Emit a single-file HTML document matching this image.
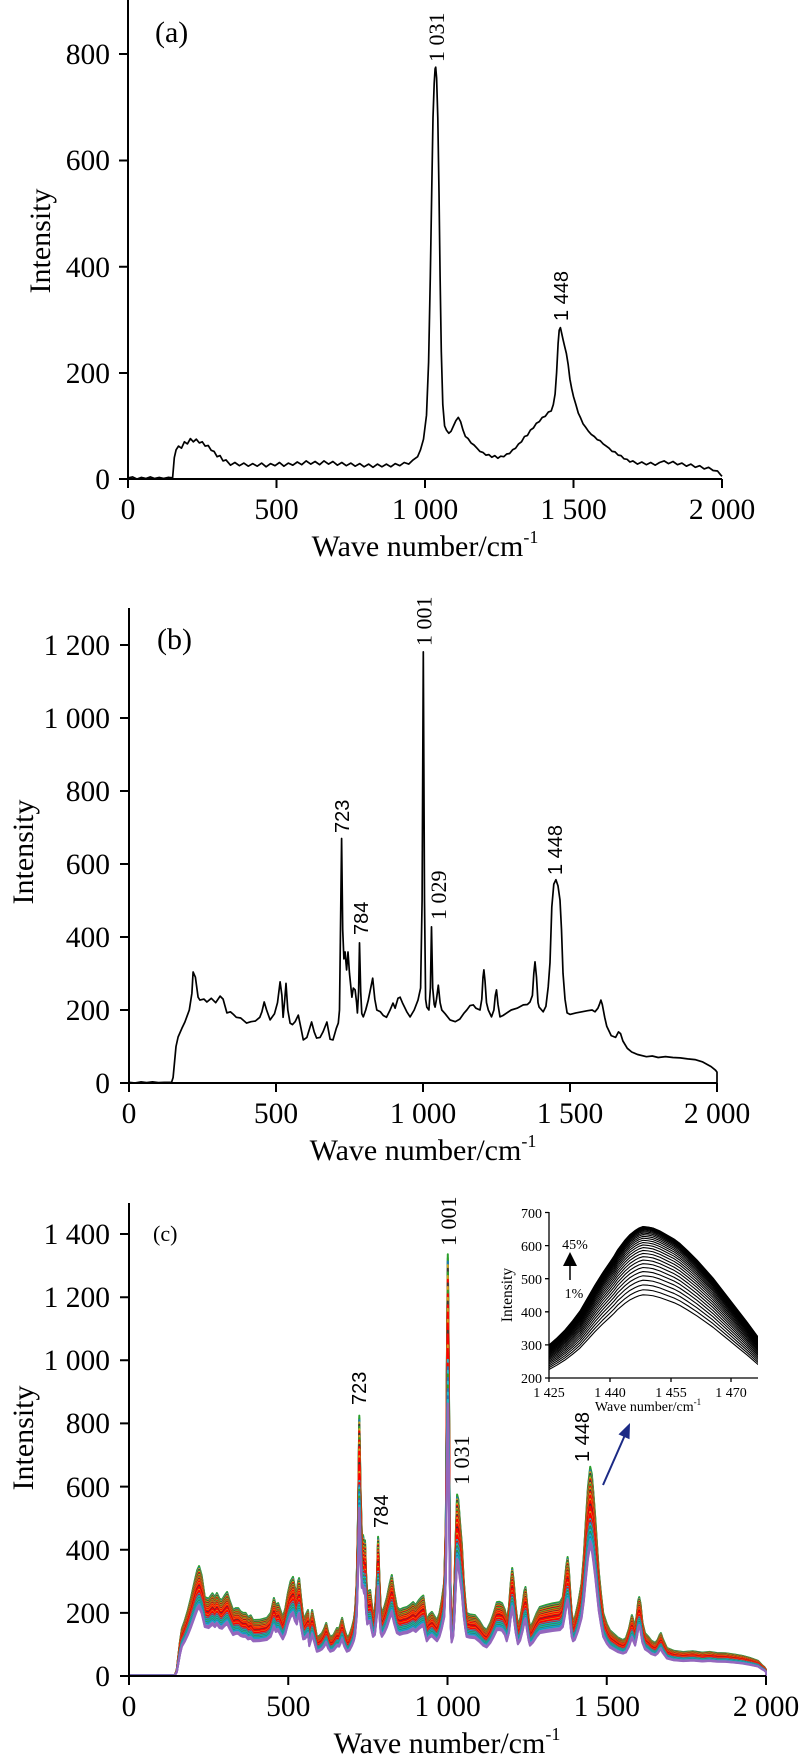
<!DOCTYPE html>
<html><head><meta charset="utf-8"><style>
html,body{margin:0;padding:0;background:#fff;}
svg{display:block;}
.s{font-family:"Liberation Serif",serif;fill:#000;}
.n{font-family:"Liberation Sans",sans-serif;fill:#000;}
.ax{stroke:#000;stroke-width:2;fill:none;}
.sp{stroke:#000;stroke-width:1.7;fill:none;stroke-linejoin:round;}
</style></head><body>
<svg xmlns="http://www.w3.org/2000/svg" xmlns:xlink="http://www.w3.org/1999/xlink" width="800" height="1763" viewBox="0 0 800 1763">
<rect width="800" height="1763" fill="#fff"/>
<defs>
<clipPath id="ic"><rect x="549" y="1200" width="209" height="178"/></clipPath>
<path id="S" fill="none" vector-effect="non-scaling-stroke" stroke-linejoin="round" d="M129.0 1675.1 L174.9 1675.1 176.8 1669.7 180.0 1641.3 181.9 1628.6 184.7 1620.8 187.9 1610.0 191.1 1597.1 194.9 1580.0 197.2 1570.2 199.1 1566.1 201.6 1575.0 204.8 1597.1 208.6 1598.7 212.4 1593.3 215.0 1597.1 216.9 1593.0 219.5 1598.7 222.0 1599.9 224.6 1595.5 227.1 1592.0 229.6 1600.2 233.1 1610.0 235.7 1608.1 238.2 1608.1 240.5 1611.3 243.0 1612.9 245.6 1612.9 248.1 1617.0 250.7 1615.4 253.2 1620.1 259.6 1619.8 266.9 1617.9 270.7 1612.9 273.9 1598.0 275.8 1605.0 278.1 1603.1 280.3 1609.7 282.8 1617.0 285.4 1608.1 287.9 1593.0 290.5 1581.3 293.0 1576.9 294.9 1587.6 296.8 1593.0 298.1 1581.3 299.1 1578.1 301.0 1597.1 303.2 1617.0 305.1 1616.0 308.0 1610.0 309.3 1628.0 310.9 1619.2 312.1 1610.0 314.4 1622.3 316.9 1636.9 319.5 1635.6 322.0 1633.1 324.2 1628.6 326.2 1623.0 328.1 1631.8 330.3 1636.9 333.5 1635.0 337.0 1628.0 339.2 1628.6 342.1 1617.9 344.3 1628.6 346.9 1636.9 349.4 1635.0 352.0 1627.1 353.9 1619.2 355.1 1610.0 356.7 1581.3 358.0 1518.2 359.3 1415.6 360.5 1486.6 361.8 1533.9 363.1 1535.2 364.1 1543.4 365.0 1540.3 366.0 1571.8 367.2 1593.0 368.5 1590.8 370.1 1590.1 371.7 1603.4 373.0 1612.9 374.9 1609.7 376.8 1581.3 378.1 1536.8 379.3 1575.0 380.6 1606.5 381.9 1612.9 384.4 1606.5 387.0 1597.1 389.5 1584.4 391.8 1575.0 394.0 1590.8 396.9 1606.9 399.7 1609.7 402.9 1608.1 407.0 1606.9 409.9 1605.0 413.1 1602.1 415.7 1605.0 418.8 1600.2 421.4 1597.1 423.3 1595.5 425.2 1609.7 426.8 1620.1 429.3 1614.4 431.9 1611.9 434.4 1616.0 437.0 1620.1 439.5 1612.9 441.8 1599.9 444.3 1581.3 445.9 1518.2 446.9 1360.3 447.8 1254.2 448.8 1360.3 449.7 1518.2 450.7 1597.1 451.6 1622.0 453.2 1612.9 454.5 1581.3 455.8 1533.9 457.1 1494.5 458.3 1499.2 460.2 1524.5 461.8 1543.4 463.7 1580.0 465.3 1600.2 466.6 1612.9 469.8 1614.4 474.9 1615.1 479.4 1620.8 483.2 1627.1 486.7 1629.9 490.5 1622.3 493.7 1612.9 496.9 1602.1 499.4 1601.8 502.0 1603.1 504.8 1609.7 506.7 1620.1 509.0 1606.5 510.6 1584.4 512.2 1568.0 513.7 1581.3 515.7 1606.5 517.9 1624.9 520.1 1619.2 522.7 1603.4 524.3 1590.8 525.5 1587.0 527.1 1603.4 528.7 1619.2 530.0 1627.1 532.9 1622.3 536.7 1612.9 539.9 1606.9 546.2 1605.0 552.6 1603.4 559.9 1602.1 562.8 1597.1 564.7 1581.3 566.3 1565.5 567.6 1557.0 568.8 1568.7 570.4 1593.9 571.7 1612.9 573.0 1620.1 574.9 1617.6 578.1 1603.4 580.0 1592.3 581.6 1582.9 583.8 1556.0 586.0 1518.2 588.0 1486.6 590.2 1466.7 591.8 1474.0 593.4 1492.9 595.3 1518.2 596.9 1543.1 598.8 1571.8 601.0 1593.9 603.2 1612.9 606.8 1623.9 609.9 1630.2 613.1 1633.1 617.9 1637.5 623.0 1640.0 625.9 1638.1 629.0 1628.6 631.0 1619.2 631.9 1615.1 633.5 1620.8 635.1 1627.1 637.0 1612.9 638.3 1600.2 639.2 1597.1 640.5 1603.4 642.4 1622.3 645.0 1633.1 648.2 1636.5 651.3 1640.6 655.2 1642.9 657.7 1639.7 659.6 1635.0 660.9 1633.1 662.5 1638.1 666.9 1647.9 673.6 1650.7 683.2 1652.0 692.8 1651.2 702.3 1652.6 709.6 1651.9 716.9 1653.0 725.5 1653.2 734.2 1654.5 742.2 1655.8 750.1 1658.0 758.0 1660.8 761.9 1665.0 764.4 1667.2 766.0 1669.7 766.0 1676"/>
<path id="F" fill="none" vector-effect="non-scaling-stroke" stroke-linejoin="round" d="M549 1345 L557 1338 565 1330 572.5 1321 580 1311 587.5 1298 595 1285 602.5 1273 610 1262 614 1256 617.5 1250 625 1240 630 1234.5 635 1230.5 639 1228 643 1226.5 648 1227 653 1228 660 1231 667 1235 674 1239 680 1243.5 688 1251 697 1260 705 1269 713 1278 721.5 1289 730 1300 738.5 1311 747 1322 752.5 1329.5 758 1337 760 1340"/>
</defs>

<!-- ===== Panel (a) ===== -->
<path class="ax" d="M128 0V479H722 M119 479H128 M119 373H128 M119 266.7H128 M119 160.5H128 M119 54H128 M128 479V488 M276.5 479V488 M425 479V488 M573.5 479V488 M722 479V488"/>
<g class="s" font-size="29.5" text-anchor="end">
<text x="110" y="489">0</text><text x="110" y="383">200</text><text x="110" y="277">400</text><text x="110" y="170">600</text><text x="110" y="64">800</text>
</g>
<g class="s" font-size="29.5" text-anchor="middle">
<text x="128" y="519">0</text><text x="276.5" y="519">500</text><text x="425" y="519">1 000</text><text x="573.5" y="519">1 500</text><text x="722" y="519">2 000</text>
<text x="425" y="556" font-size="30">Wave number/cm<tspan font-size="18" dy="-13">-1</tspan></text>
<text transform="translate(50,241) rotate(-90)" font-size="30">Intensity</text>
</g>
<text class="s" x="155" y="42" font-size="30">(a)</text>
<text class="s" font-size="22" transform="translate(444,62) rotate(-90)">1 031</text>
<text class="n" font-size="20" transform="translate(568,321) rotate(-90)">1 448</text>
<path class="sp" d="M128.0 477.9 L132.5 476.9 136.9 479 141.4 477.4 145.8 478.5 150.3 476.9 154.7 478.5 159.2 477.4 163.6 478.5 168.1 477.4 172.6 477.9 174.3 457.7 176.1 449.8 178.5 446.1 181.5 448.2 184.4 441.8 187.4 443.9 190.4 438.6 193.3 441.8 196.3 439.2 199.3 442.9 202.3 441.8 205.2 446.1 208.2 445.5 211.2 450.3 214.1 451.4 217.1 456.7 220.1 455.6 223.0 460.9 226.0 459.9 230.5 465.2 234.9 462.5 239.4 465.7 243.8 463.1 248.3 466.2 252.7 463.6 257.2 466.2 261.7 463.1 266.1 466.8 270.6 463.6 275.0 465.7 279.5 462.5 283.9 466.2 288.4 463.1 292.8 465.2 297.3 462.0 301.7 464.7 306.2 460.9 310.7 464.1 315.1 461.5 319.6 464.7 324.0 460.9 328.5 464.1 332.9 461.5 337.4 465.2 341.8 462.5 346.3 465.7 350.8 463.1 355.2 466.2 359.7 463.6 364.1 466.8 368.6 464.1 373.0 467.3 377.5 464.1 381.9 466.8 386.4 464.1 390.8 466.8 395.3 463.6 399.8 465.7 404.2 462.5 408.7 464.1 413.1 459.9 417.6 456.7 420.5 449.8 423.5 439.2 426.5 415.2 428.6 362.1 430.3 277.1 431.8 186.8 433.0 117.7 434.2 83.2 435.1 68.8 435.7 67.2 436.6 77.9 437.8 117.7 439.0 192.1 440.1 277.1 441.3 351.5 442.8 404.6 444.6 425.9 446.4 430.1 448.8 433.3 451.1 431.2 453.5 425.9 455.9 420.6 458.3 417.4 460.6 421.6 463.0 430.1 465.4 436.5 468.1 438.6 471.0 442.9 474.0 445.0 477.0 448.2 479.9 451.4 482.9 452.4 485.9 455.1 488.9 454.6 491.8 457.2 494.8 455.6 497.8 458.3 500.7 456.2 503.7 456.7 506.7 454.0 509.6 453.5 512.6 449.8 515.6 448.2 518.6 443.9 521.5 441.8 524.5 436.5 527.5 435.4 530.4 430.1 533.4 428.0 536.4 423.2 539.3 421.6 542.3 417.4 545.3 416.3 548.3 412.1 551.2 411.0 553.3 404.6 555.1 394.0 556.6 372.7 558.1 343.5 559.2 330.2 560.4 327.6 561.6 332.9 563.1 339.8 564.6 346.2 566.4 353.6 568.2 364.8 569.9 379.1 571.7 388.7 573.5 396.6 575.9 404.6 578.3 413.1 580.6 417.9 583.0 423.7 585.4 426.9 588.4 431.2 591.3 434.4 594.3 436.5 597.3 439.7 600.2 440.7 603.2 443.9 606.2 446.1 609.1 448.2 612.1 451.4 615.1 451.9 618.1 455.1 621.0 455.6 624.0 458.8 627.0 459.3 629.9 462.0 632.9 460.9 637.4 464.1 641.8 462.0 646.3 464.7 650.7 462.5 655.2 465.2 659.6 462.5 664.1 460.9 668.5 463.6 673.0 461.5 677.5 464.7 681.9 463.1 686.4 466.2 690.8 464.1 695.3 467.3 699.7 465.7 704.2 468.9 708.6 467.3 713.1 470.5 717.5 471.0 720.5 474.7 722.0 476.3"/>

<!-- ===== Panel (b) ===== -->
<path class="ax" d="M129 608V1083H717 M120 1083H129 M120 1010H129 M120 937H129 M120 864H129 M120 791H129 M120 718H129 M120 645H129 M129 1083V1092 M276 1083V1092 M423 1083V1092 M570 1083V1092 M717 1083V1092"/>
<g class="s" font-size="29.5" text-anchor="end">
<text x="110" y="1093">0</text><text x="110" y="1020">200</text><text x="110" y="947">400</text><text x="110" y="874">600</text><text x="110" y="801">800</text><text x="110" y="728">1 000</text><text x="110" y="655">1 200</text>
</g>
<g class="s" font-size="29.5" text-anchor="middle">
<text x="129" y="1123">0</text><text x="276" y="1123">500</text><text x="423" y="1123">1 000</text><text x="570" y="1123">1 500</text><text x="717" y="1123">2 000</text>
<text x="423" y="1160" font-size="30">Wave number/cm<tspan font-size="18" dy="-13">-1</tspan></text>
<text transform="translate(33,852) rotate(-90)" font-size="30">Intensity</text>
</g>
<text class="s" x="157" y="649" font-size="30">(b)</text>
<text class="s" font-size="22" transform="translate(431.5,646) rotate(-90)">1 001</text>
<text class="s" font-size="22" transform="translate(446,920) rotate(-90)">1 029</text>
<text class="n" font-size="20" transform="translate(562,875) rotate(-90)">1 448</text>
<text class="n" font-size="20" transform="translate(349,833) rotate(-90)">723</text>
<text class="n" font-size="20" transform="translate(368,935) rotate(-90)">784</text>
<path class="sp" d="M129 1082.3 L134.9 1083 140.8 1081.9 146.6 1082.6 152.5 1081.9 158.4 1082.6 164.3 1082.3 171.6 1082.3 173.1 1077.5 176.0 1046.5 178.1 1037.0 181.9 1028.3 184.9 1022.0 189.3 1010.0 191.9 993.2 193.1 972.0 195.4 977.2 198.1 997.2 199.9 1000.1 204.0 999.1 206.9 1002.0 211.3 998.3 215.7 1002.7 220.1 996.1 223.1 999.1 226.9 1012.9 230.4 1011.8 233.4 1014.4 236.3 1017.3 240.7 1018.0 246.6 1023.1 251.0 1021.7 255.4 1021.0 259.8 1017.3 261.9 1011.8 264.2 1002.0 266.6 1010.0 270.1 1019.9 274.5 1013.7 277.5 1002.7 280.1 981.9 281.9 995.4 283.1 1017.3 284.8 999.1 286.0 983.4 287.8 1010.0 290.1 1023.1 292.5 1024.6 295.1 1021.7 298.3 1015.1 301.0 1028.3 303.3 1039.9 306.9 1037.4 311.6 1022.0 314.2 1031.9 316.6 1038.1 320.1 1037.4 323.0 1031.9 326.9 1022.0 330.1 1039.2 333.0 1039.9 336.3 1028.3 338.3 1023.1 339.5 1010.0 340.4 937.0 341.6 838.5 342.7 929.7 343.9 958.9 345.1 952.0 346.6 969.9 348.0 952.0 349.5 973.5 351.9 997.2 353.3 988.1 355.1 989.9 356.6 1002.7 357.4 1012.9 358.6 991.8 359.5 942.8 360.7 991.8 361.8 1013.7 363.3 1016.9 365.7 1010.0 368.3 1000.1 370.7 988.1 372.7 978.2 374.8 999.1 376.8 1010.0 380.4 1011.8 383.3 1015.5 386.5 1017.3 390.1 1010.0 393.0 1003.1 395.1 1008.2 398.0 998.3 400.1 997.2 402.4 1002.7 406.8 1011.8 410.1 1016.9 414.2 1010.0 418.0 1000.1 420.6 988.1 422.1 900.5 423.3 651.9 424.5 900.5 425.6 999.1 426.8 1007.1 428.9 1010.0 430.4 988.1 431.5 926.8 432.7 988.1 434.2 1004.5 435.1 1007.1 436.5 999.1 438.3 985.2 440.1 1002.7 441.8 1010.0 445.1 1013.7 450.0 1019.9 455.3 1021.7 459.8 1019.1 464.2 1012.9 466.8 1010.0 470.0 1005.6 473.3 1004.9 475.9 1008.2 480.0 1010.0 481.8 999.1 483.0 977.2 483.9 969.9 485.0 980.8 486.5 1002.7 488.3 1010.0 491.5 1016.9 493.9 1010.0 495.3 995.4 496.5 989.9 498.0 1004.5 500.0 1016.9 503.0 1015.5 506.8 1012.9 511.2 1010.0 517.1 1008.2 523.3 1004.9 527.4 1004.5 530.0 1002.0 532.4 995.4 533.8 973.5 535.0 961.8 536.5 977.2 538.0 1002.7 539.1 1007.1 543.2 1011.8 545.9 1006.4 548.2 987.0 550.0 962.6 551.8 907.1 553.8 884.1 555.9 879.7 558.0 885.9 560.0 900.1 561.5 929.7 563.0 973.1 565.0 999.1 567.1 1012.9 570.0 1014.4 575.9 1012.9 581.8 1011.8 587.6 1010.7 592.1 1010.0 595.0 1011.8 597.9 1008.2 599.4 1004.5 600.9 1000.1 602.3 1004.5 604.7 1017.3 606.8 1026.4 611.2 1035.6 615.6 1037.4 618.5 1031.9 620.6 1033.7 622.9 1041.0 627.3 1048.3 631.7 1052.0 637.6 1054.5 646.4 1056.7 652.3 1056.0 658.2 1057.5 665.5 1056.6 672.9 1057.5 680.2 1057.9 687.6 1058.9 695.0 1059.6 702.3 1061.8 711.1 1066.6 715.5 1070.2 717.0 1072.1 717.0 1083"/>

<!-- ===== Panel (c) ===== -->
<g stroke-width="2">
<use xlink:href="#S" href="#S" stroke="#2ca02c" transform="matrix(1,0,0,1,0,0)"/>
<use xlink:href="#S" href="#S" stroke="#2ca02c" transform="matrix(1,0,0,0.99136,0,14.47)"/>
<use xlink:href="#S" href="#S" stroke="#1f77b4" transform="matrix(1,0,0,0.98273,0,28.95)"/>
<use xlink:href="#S" href="#S" stroke="#d4a017" transform="matrix(1,0,0,0.97409,0,43.42)"/>
<use xlink:href="#S" href="#S" stroke="#3a3a3a" transform="matrix(1,0,0,0.96545,0,57.90)"/>
<use xlink:href="#S" href="#S" stroke="#2ca02c" transform="matrix(1,0,0,0.95682,0,72.37)"/>
<use xlink:href="#S" href="#S" stroke="#d4a017" transform="matrix(1,0,0,0.94818,0,86.85)"/>
<use xlink:href="#S" href="#S" stroke="#ff0000" transform="matrix(1,0,0,0.93955,0,101.32)"/>
<use xlink:href="#S" href="#S" stroke="#3a3a3a" transform="matrix(1,0,0,0.93091,0,115.79)"/>
<use xlink:href="#S" href="#S" stroke="#d4a017" transform="matrix(1,0,0,0.92227,0,130.27)"/>
<use xlink:href="#S" href="#S" stroke="#2ca02c" transform="matrix(1,0,0,0.91364,0,144.74)"/>
<use xlink:href="#S" href="#S" stroke="#ff0000" transform="matrix(1,0,0,0.90500,0,159.22)"/>
<use xlink:href="#S" href="#S" stroke="#d4a017" transform="matrix(1,0,0,0.89636,0,173.69)"/>
<use xlink:href="#S" href="#S" stroke="#3a3a3a" transform="matrix(1,0,0,0.88773,0,188.17)"/>
<use xlink:href="#S" href="#S" stroke="#ff0000" transform="matrix(1,0,0,0.87909,0,202.64)"/>
<use xlink:href="#S" href="#S" stroke="#d4a017" transform="matrix(1,0,0,0.87045,0,217.11)"/>
<use xlink:href="#S" href="#S" stroke="#ff0000" transform="matrix(1,0,0,0.86182,0,231.59)"/>
<use xlink:href="#S" href="#S" stroke="#ff0000" transform="matrix(1,0,0,0.85318,0,246.06)"/>
<use xlink:href="#S" href="#S" stroke="#d4a017" transform="matrix(1,0,0,0.84455,0,260.54)"/>
<use xlink:href="#S" href="#S" stroke="#ff0000" transform="matrix(1,0,0,0.83591,0,275.01)"/>
<use xlink:href="#S" href="#S" stroke="#ff0000" transform="matrix(1,0,0,0.82727,0,289.49)"/>
<use xlink:href="#S" href="#S" stroke="#3a3a3a" transform="matrix(1,0,0,0.81864,0,303.96)"/>
<use xlink:href="#S" href="#S" stroke="#ff0000" transform="matrix(1,0,0,0.81000,0,318.44)"/>
<use xlink:href="#S" href="#S" stroke="#ff0000" transform="matrix(1,0,0,0.80136,0,332.91)"/>
<use xlink:href="#S" href="#S" stroke="#ff0000" transform="matrix(1,0,0,0.79273,0,347.38)"/>
<use xlink:href="#S" href="#S" stroke="#d4a017" transform="matrix(1,0,0,0.78409,0,361.86)"/>
<use xlink:href="#S" href="#S" stroke="#ff0000" transform="matrix(1,0,0,0.77545,0,376.33)"/>
<use xlink:href="#S" href="#S" stroke="#ff0000" transform="matrix(1,0,0,0.76682,0,390.81)"/>
<use xlink:href="#S" href="#S" stroke="#ff0000" transform="matrix(1,0,0,0.75818,0,405.28)"/>
<use xlink:href="#S" href="#S" stroke="#17becf" transform="matrix(1,0,0,0.74955,0,419.76)"/>
<use xlink:href="#S" href="#S" stroke="#ff0000" transform="matrix(1,0,0,0.74091,0,434.23)"/>
<use xlink:href="#S" href="#S" stroke="#1f77b4" transform="matrix(1,0,0,0.73227,0,448.70)"/>
<use xlink:href="#S" href="#S" stroke="#17becf" transform="matrix(1,0,0,0.72364,0,463.18)"/>
<use xlink:href="#S" href="#S" stroke="#2ca02c" transform="matrix(1,0,0,0.71500,0,477.65)"/>
<use xlink:href="#S" href="#S" stroke="#1f77b4" transform="matrix(1,0,0,0.70636,0,492.13)"/>
<use xlink:href="#S" href="#S" stroke="#17becf" transform="matrix(1,0,0,0.69773,0,506.60)"/>
<use xlink:href="#S" href="#S" stroke="#2ca02c" transform="matrix(1,0,0,0.68909,0,521.08)"/>
<use xlink:href="#S" href="#S" stroke="#1f77b4" transform="matrix(1,0,0,0.68045,0,535.55)"/>
<use xlink:href="#S" href="#S" stroke="#17becf" transform="matrix(1,0,0,0.67182,0,550.02)"/>
<use xlink:href="#S" href="#S" stroke="#1f77b4" transform="matrix(1,0,0,0.66318,0,564.50)"/>
<use xlink:href="#S" href="#S" stroke="#17becf" transform="matrix(1,0,0,0.65455,0,578.97)"/>
<use xlink:href="#S" href="#S" stroke="#9467bd" transform="matrix(1,0,0,0.64591,0,593.45)"/>
<use xlink:href="#S" href="#S" stroke="#9467bd" transform="matrix(1,0,0,0.63727,0,607.92)"/>
<use xlink:href="#S" href="#S" stroke="#9467bd" transform="matrix(1,0,0,0.62864,0,622.40)"/>
<use xlink:href="#S" href="#S" stroke="#9467bd" transform="matrix(1,0,0,0.62000,0,636.88)"/>
</g>
<path class="ax" d="M129 1203V1676H766 M120 1676H129 M120 1612.9H129 M120 1549.7H129 M120 1486.6H129 M120 1423.4H129 M120 1360.3H129 M120 1297.2H129 M120 1234H129 M129 1676V1685 M288.25 1676V1685 M447.5 1676V1685 M606.75 1676V1685 M766 1676V1685"/>
<g class="s" font-size="29.5" text-anchor="end">
<text x="110" y="1686">0</text><text x="110" y="1623">200</text><text x="110" y="1560">400</text><text x="110" y="1497">600</text><text x="110" y="1433">800</text><text x="110" y="1370">1 000</text><text x="110" y="1307">1 200</text><text x="110" y="1244">1 400</text>
</g>
<g class="s" font-size="29.5" text-anchor="middle">
<text x="129" y="1716">0</text><text x="288.25" y="1716">500</text><text x="447.5" y="1716">1 000</text><text x="606.75" y="1716">1 500</text><text x="766" y="1716">2 000</text>
<text x="447" y="1753" font-size="30">Wave number/cm<tspan font-size="18" dy="-13">-1</tspan></text>
<text transform="translate(33,1438) rotate(-90)" font-size="30">Intensity</text>
</g>
<text class="s" x="153" y="1241" font-size="22">(c)</text>
<text class="s" font-size="22" transform="translate(456,1246) rotate(-90)">1 001</text>
<text class="s" font-size="22" transform="translate(469,1485) rotate(-90)">1 031</text>
<text class="n" font-size="20" transform="translate(589,1462) rotate(-90)">1 448</text>
<text class="n" font-size="20" transform="translate(366,1405) rotate(-90)">723</text>
<text class="n" font-size="20" transform="translate(388,1528) rotate(-90)">784</text>

<!-- blue arrow -->
<line x1="603" y1="1485" x2="625" y2="1435" stroke="#1b2a85" stroke-width="2"/>
<polygon points="630,1423 618.5,1434.4 629.5,1439.2" fill="#1b2a85"/>

<!-- ===== Inset ===== -->
<g clip-path="url(#ic)" stroke="#000" stroke-width="1.1">
<use xlink:href="#F" href="#F" transform="matrix(1,0,0,1,0,0)"/>
<use xlink:href="#F" href="#F" transform="matrix(1,0,0,0.9990,0,1.41)"/>
<use xlink:href="#F" href="#F" transform="matrix(1,0,0,0.9953,0,6.63)"/>
<use xlink:href="#F" href="#F" transform="matrix(1,0,0,0.9923,0,10.87)"/>
<use xlink:href="#F" href="#F" transform="matrix(1,0,0,0.9884,0,16.37)"/>
<use xlink:href="#F" href="#F" transform="matrix(1,0,0,0.9838,0,22.86)"/>
<use xlink:href="#F" href="#F" transform="matrix(1,0,0,0.9782,0,30.76)"/>
<use xlink:href="#F" href="#F" transform="matrix(1,0,0,0.9718,0,39.79)"/>
<use xlink:href="#F" href="#F" transform="matrix(1,0,0,0.9644,0,50.23)"/>
<use xlink:href="#F" href="#F" transform="matrix(1,0,0,0.9562,0,61.80)"/>
<use xlink:href="#F" href="#F" transform="matrix(1,0,0,0.9469,0,74.93)"/>
<use xlink:href="#F" href="#F" transform="matrix(1,0,0,0.9367,0,89.33)"/>
<use xlink:href="#F" href="#F" transform="matrix(1,0,0,0.9254,0,105.27)"/>
<use xlink:href="#F" href="#F" transform="matrix(1,0,0,0.9132,0,122.49)"/>
<use xlink:href="#F" href="#F" transform="matrix(1,0,0,0.9001,0,140.97)"/>
<use xlink:href="#F" href="#F" transform="matrix(1,0,0,0.8857,0,161.29)"/>
<use xlink:href="#F" href="#F" transform="matrix(1,0,0,0.8704,0,182.89)"/>
<use xlink:href="#F" href="#F" transform="matrix(1,0,0,0.8540,0,206.02)"/>
<use xlink:href="#F" href="#F" transform="matrix(1,0,0,0.8365,0,230.72)"/>
<use xlink:href="#F" href="#F" transform="matrix(1,0,0,0.8181,0,256.68)"/>
<use xlink:href="#F" href="#F" transform="matrix(1,0,0,0.7986,0,284.20)"/>
<use xlink:href="#F" href="#F" transform="matrix(1,0,0,0.7779,0,313.41)"/>
<use xlink:href="#F" href="#F" transform="matrix(1,0,0,0.7559,0,344.45)"/>
<use xlink:href="#F" href="#F" transform="matrix(1,0,0,0.7329,0,376.88)"/>
<use xlink:href="#F" href="#F" transform="matrix(1,0,0,0.7090,0,410.61)"/>
<use xlink:href="#F" href="#F" transform="matrix(1,0,0,0.6838,0,446.21)"/>
<use xlink:href="#F" href="#F" transform="matrix(1,0,0,0.6574,0,483.46)"/>
<use xlink:href="#F" href="#F" transform="matrix(1,0,0,0.6300,0,522.11)"/>
</g>
<path d="M549 1212V1378H758 M545 1378H549 M545 1344.9H549 M545 1311.8H549 M545 1278.7H549 M545 1245.6H549 M545 1212.5H549 M549 1378V1382 M610 1378V1382 M671 1378V1382 M731 1378V1382" stroke="#000" stroke-width="1.3" fill="none"/>
<g class="s" font-size="14" text-anchor="end">
<text x="542" y="1383">200</text><text x="542" y="1350">300</text><text x="542" y="1317">400</text><text x="542" y="1284">500</text><text x="542" y="1251">600</text><text x="542" y="1218">700</text>
</g>
<g class="s" font-size="14" text-anchor="middle">
<text x="549" y="1397">1 425</text><text x="610" y="1397">1 440</text><text x="671" y="1397">1 455</text><text x="731" y="1397">1 470</text>
<text x="648" y="1411">Wave number/cm<tspan font-size="9" dy="-6">-1</tspan></text>
<text transform="translate(512,1295) rotate(-90)" font-size="15.5">Intensity</text>
<text x="575" y="1249">45%</text>
<text x="574" y="1298">1%</text>
</g>
<line x1="570" y1="1280" x2="570" y2="1262" stroke="#000" stroke-width="1.5"/>
<polygon points="570,1252 563,1266 577,1266" fill="#000"/>
</svg>
</body></html>
